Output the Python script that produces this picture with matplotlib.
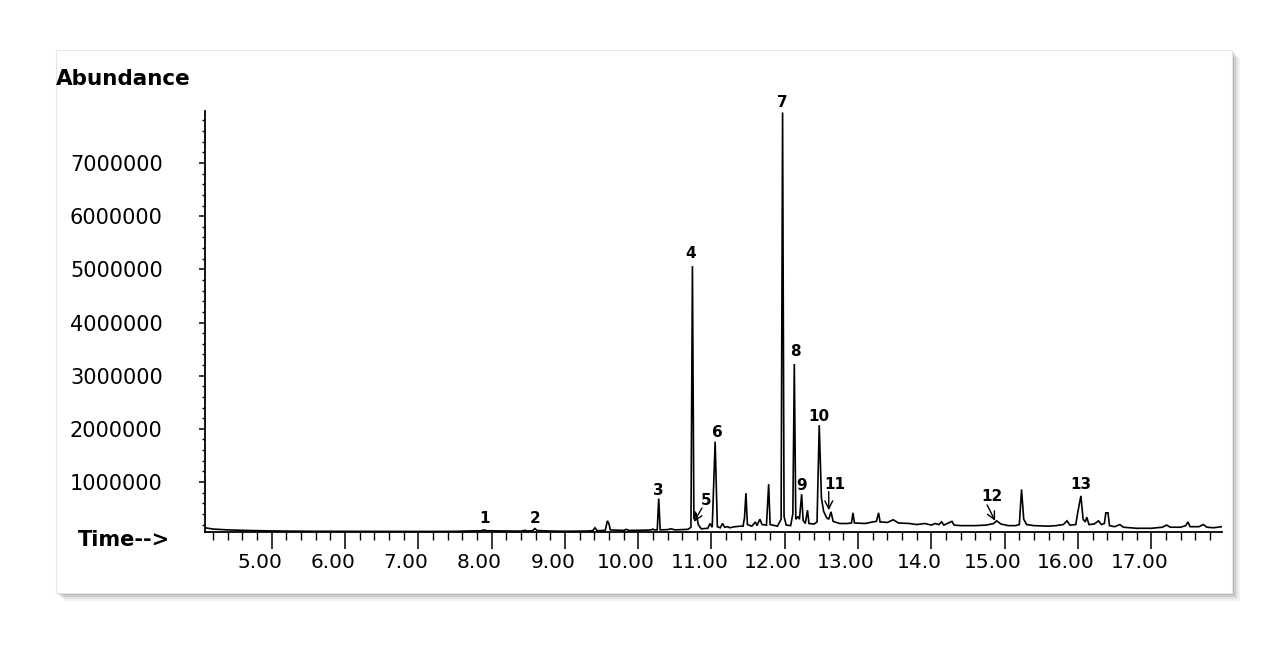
import matplotlib.pyplot as plt
import matplotlib.transforms as mtransforms
from matplotlib.patches import Rectangle
from matplotlib.ticker import MultipleLocator, FixedLocator, FixedFormatter

# Chromatogram trace (time in min, abundance)
times = [4.09, 4.20, 4.40, 4.70, 5.00, 5.50, 6.00, 6.50, 7.00, 7.50, 7.70, 7.85,
         7.90, 7.93, 8.10, 8.40, 8.46, 8.48, 8.56, 8.59, 8.62, 8.80, 9.00, 9.30,
         9.38, 9.41, 9.44, 9.55, 9.58, 9.60, 9.62, 9.80, 9.84, 9.87, 10.10, 10.18,
         10.20, 10.22, 10.26, 10.28, 10.30, 10.40, 10.45, 10.50, 10.68, 10.72, 10.74, 10.76,
         10.79, 10.82, 10.86, 10.95, 10.98, 11.01, 11.05, 11.08, 11.12, 11.15, 11.18, 11.22,
         11.25, 11.32, 11.40, 11.43, 11.45, 11.47, 11.49, 11.55, 11.60, 11.62, 11.66, 11.69,
         11.75, 11.78, 11.80, 11.90, 11.95, 11.97, 11.99, 12.02, 12.08, 12.11, 12.13, 12.15,
         12.18, 12.20, 12.23, 12.25, 12.28, 12.31, 12.33, 12.40, 12.44, 12.47, 12.50, 12.53,
         12.57, 12.60, 12.63, 12.66, 12.75, 12.85, 12.91, 12.93, 12.95, 13.10, 13.20, 13.25,
         13.28, 13.30, 13.40, 13.48, 13.55, 13.70, 13.80, 13.91, 14.00, 14.05, 14.10, 14.14,
         14.17, 14.28, 14.31, 14.40, 14.60, 14.75, 14.85, 14.89, 14.95, 15.05, 15.15, 15.20,
         15.23, 15.26, 15.30, 15.40, 15.60, 15.70, 15.80, 15.85, 15.89, 15.97, 16.00, 16.04,
         16.07, 16.10, 16.12, 16.15, 16.22, 16.28, 16.32, 16.36, 16.38, 16.41, 16.43, 16.50,
         16.57, 16.62, 16.80, 17.00, 17.15, 17.21, 17.26, 17.40, 17.47, 17.50, 17.53, 17.65,
         17.71, 17.76, 17.85, 17.96]
abund_m = [0.14, 0.115, 0.10, 0.088, 0.080, 0.074, 0.072, 0.070, 0.070, 0.072, 0.080, 0.082,
           0.100, 0.085, 0.080, 0.076, 0.092, 0.078, 0.085, 0.125, 0.088, 0.078, 0.074, 0.078,
           0.085, 0.14, 0.085, 0.09, 0.27, 0.22, 0.10, 0.09, 0.11, 0.09, 0.095, 0.10,
           0.115, 0.10, 0.10, 0.69, 0.10, 0.105, 0.12, 0.10, 0.11, 0.15, 5.06, 0.30,
           0.42, 0.20, 0.12, 0.13, 0.22, 0.15, 1.76, 0.16, 0.14, 0.22, 0.15, 0.16,
           0.14, 0.16, 0.17, 0.17, 0.32, 0.79, 0.20, 0.17, 0.25, 0.18, 0.30, 0.20,
           0.19, 0.96, 0.20, 0.17, 0.30, 7.95, 0.35, 0.19, 0.18, 0.40, 3.22, 0.30,
           0.35, 0.30, 0.77, 0.28, 0.22, 0.47, 0.22, 0.21, 0.25, 2.07, 0.70, 0.45,
           0.33, 0.30, 0.44, 0.26, 0.22, 0.22, 0.23, 0.42, 0.23, 0.22, 0.25, 0.26,
           0.42, 0.25, 0.24, 0.29, 0.23, 0.22, 0.20, 0.22, 0.19, 0.22, 0.20, 0.25,
           0.19, 0.26, 0.19, 0.18, 0.18, 0.19, 0.22, 0.27, 0.21, 0.18, 0.18, 0.20,
           0.86, 0.30, 0.20, 0.18, 0.17, 0.18, 0.20, 0.27, 0.19, 0.20, 0.45, 0.74,
           0.30, 0.25, 0.34, 0.20, 0.21, 0.27, 0.20, 0.22, 0.42, 0.42, 0.18, 0.16,
           0.20, 0.15, 0.13, 0.13, 0.15, 0.19, 0.15, 0.15, 0.18, 0.25, 0.16, 0.16,
           0.20, 0.15, 0.14, 0.16]
abundance = [a * 1e6 for a in abund_m]

# peak numbers: label position (time, abundance)
peak_ids = ['1', '2', '3', '4', '5', '6', '7', '8', '9', '10', '11', '12', '13']
label_t = [7.91, 8.59, 10.27, 10.71, 10.93, 11.08, 11.96, 12.15, 12.23, 12.47, 12.68, 14.83, 16.04]
label_a = [0.31e6, 0.31e6, 0.85e6, 5.29e6, 0.66e6, 1.94e6, 8.14e6, 3.46e6, 0.94e6, 2.24e6,
           0.96e6, 0.72e6, 0.96e6]
# arrows for the small peaks: (peak id, start time, start abund, end time, end abund)
arrows = [('5', 10.87, 0.51e6, 10.76, 0.25e6),
          ('11', 12.60, 0.82e6, 12.60, 0.47e6),
          ('12', 14.76, 0.57e6, 14.87, 0.27e6)]

x_major = [5, 6, 7, 8, 9, 10, 11, 12, 13, 14, 15, 16, 17]
x_labels = ['5.00', '6.00', '7.00', '8.00', '9.00', '10.00', '11.00', '12.00', '13.00',
            '14.0', '15.00', '16.00', '17.00']
y_major = [1000000, 2000000, 3000000, 4000000, 5000000, 6000000, 7000000]

plt.rcParams['font.family'] = ['DejaVu Sans']

fig = plt.figure(figsize=(12.68, 6.46), dpi=100)

# white panel with a soft shadow
W, H = 1268.0, 646.0
for i, alpha in enumerate([0.10, 0.14, 0.20, 0.28]):
    off = 8 - 2 * i
    fig.patches.append(Rectangle(((56 + off) / W, (H - 593 - off) / H), 1176 / W, 543 / H,
                                 transform=fig.transFigure, facecolor='#808080',
                                 edgecolor='none', alpha=alpha, zorder=-3))
fig.patches.append(Rectangle((56 / W, (H - 593) / H), 1176 / W, 543 / H,
                             transform=fig.transFigure, facecolor='white',
                             edgecolor='#e6e6e6', lw=0.8, zorder=-2))

ax = fig.add_axes([205 / W, (H - 531.7) / H, (1222 - 205) / W, (531.7 - 111) / H])
ax.set_zorder(2)
ax.set_facecolor('none')
ax.plot(times, abundance, color='black', lw=1.2, solid_joinstyle='miter')

ax.set_xlim(4.09, 17.965)
ax.set_ylim(65800, 7.978e6)

for s in ['top', 'right']:
    ax.spines[s].set_visible(False)
for s in ['left', 'bottom']:
    ax.spines[s].set_linewidth(1.3)

ax.xaxis.set_major_locator(FixedLocator(x_major))
ax.xaxis.set_major_formatter(FixedFormatter(x_labels))
ax.xaxis.set_minor_locator(MultipleLocator(0.2))
ax.yaxis.set_major_locator(FixedLocator(y_major))
ax.yaxis.set_major_formatter(FixedFormatter([str(v) for v in y_major]))
ax.yaxis.set_minor_locator(MultipleLocator(200000))

ax.tick_params(axis='x', which='major', length=12, width=1.1, pad=3, labelsize=14.5)
ax.tick_params(axis='x', which='minor', length=6, width=1.0)
ax.tick_params(axis='y', which='major', length=4.5, width=1.1, pad=26, labelsize=15)
ax.tick_params(axis='y', which='minor', length=2.5, width=1.0)

# labels sit a bit left of their ticks in the original
shift = mtransforms.ScaledTranslation(-12 / 100, 0, fig.dpi_scale_trans)
for lab in ax.get_xticklabels():
    lab.set_transform(lab.get_transform() + shift)

for pid, t, a in zip(peak_ids, label_t, label_a):
    ax.text(t, a, pid, ha='center', va='center', fontsize=11, fontweight='bold',
            clip_on=False)
for pid, t0, a0, t1, a1 in arrows:
    ax.annotate('', xy=(t1, a1), xytext=(t0, a0),
                arrowprops=dict(arrowstyle='->', color='black', lw=1.0,
                                shrinkA=0, shrinkB=0, mutation_scale=14))

fig.text(56 / W, (H - 79) / H, 'Abundance', fontsize=15.5, fontweight='bold',
         ha='left', va='center', zorder=3)
fig.text(78 / W, (H - 540) / H, 'Time-->', fontsize=15, fontweight='bold',
         ha='left', va='center', zorder=3)

fig.savefig('out.png', dpi=100)
